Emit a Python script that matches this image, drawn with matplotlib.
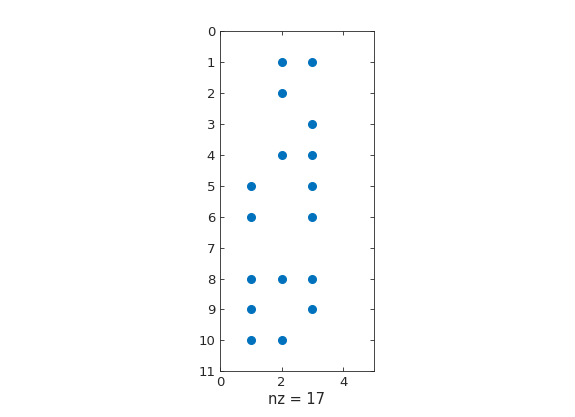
import matplotlib
matplotlib.use("Agg")
import matplotlib.pyplot as plt

rows = [1, 1, 2, 3, 4, 4, 5, 5, 6, 6, 8, 8, 8, 9, 9, 10, 10]
cols = [2, 3, 2, 3, 2, 3, 1, 3, 1, 3, 1, 2, 3, 1, 3, 1, 2]
xticks = [0, 2, 4]
yticks = list(range(0, 12))

fig = plt.figure(figsize=(5.75, 4.17), dpi=100)
ax = fig.add_axes([220/575, 1 - 371.3/417, 154/575, 340/417])
ax.plot(cols, rows, linestyle='none', marker='o', markersize=5.5,
        color='#0072BD', markeredgecolor='#0072BD')
ax.set_xlim(0, 5)
ax.set_ylim(11, 0)
ax.set_xticks(xticks)
ax.set_yticks(yticks)
ax.tick_params(direction='in', top=True, right=True, labelsize=9.5,
               colors='#262626', length=3, width=0.6)
for s in ax.spines.values():
    s.set_color('#262626')
    s.set_linewidth(0.6)
ax.set_xlabel(f"nz = {len(rows)}", fontsize=10.5, color='#262626', labelpad=2)
fig.savefig("out.png", dpi=100)
